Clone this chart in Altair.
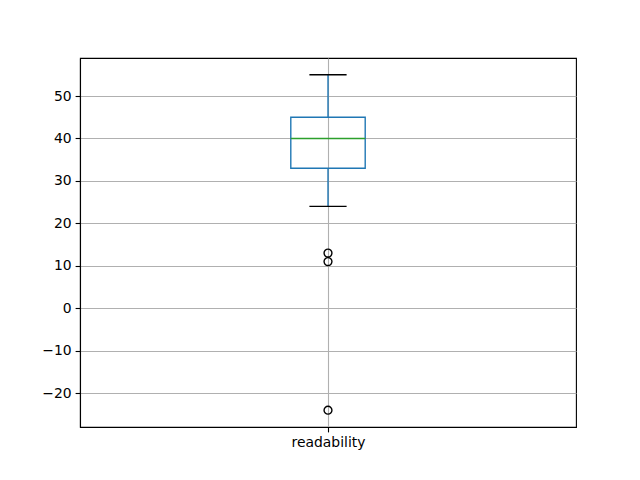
import altair as alt
import pandas as pd

categories = ["readability"]
q1 = [33]
median = [40]
q3 = [45]
whis_lo = [24]
whis_hi = [55]
fliers = [13, 11, -24]
flier_cat = ["readability", "readability", "readability"]

BOX_W = 0.15
CAP_W = 0.075
BLUE = "#1f77b4"
GREEN = "#2ca02c"
LW = 1.39

pos = {c: i + 1 for i, c in enumerate(categories)}
box = pd.DataFrame({
    "cat": categories,
    "pos": [pos[c] for c in categories],
    "q1": q1, "median": median, "q3": q3, "lo": whis_lo, "hi": whis_hi,
})
box["b0"] = box["pos"] - BOX_W / 2
box["b1"] = box["pos"] + BOX_W / 2
box["c0"] = box["pos"] - CAP_W / 2
box["c1"] = box["pos"] + CAP_W / 2
fl = pd.DataFrame({"pos": [pos[c] for c in flier_cat], "v": fliers})

label_expr = "datum.value == 1 ? '" + categories[0] + "' : ''"
xscale = alt.Scale(domain=[0.5, len(categories) + 0.5], nice=False, zero=False)
yscale = alt.Scale(domain=[-27.95, 58.95], nice=False, zero=False)
xaxis = alt.Axis(values=list(range(1, len(categories) + 1)), labelExpr=label_expr, title=None,
                 grid=True)
yaxis = alt.Axis(values=list(range(-20, 51, 10)), title=None, grid=True,
                 labelExpr="replace(format(datum.value, 'd'), '-', '\u2212')")


def X(f):
    return alt.X(f, type="quantitative", scale=xscale, axis=xaxis)


def Y(f):
    return alt.Y(f, type="quantitative", scale=yscale, axis=yaxis)


base = alt.Chart(box)

rect = base.mark_rect(fillOpacity=0, stroke=BLUE, strokeWidth=LW).encode(
    x=X("b0"), x2="b1", y=Y("q1"), y2="q3")
wh_hi = base.mark_rule(color=BLUE, strokeWidth=LW).encode(x=X("pos"), y=Y("q3"), y2="hi")
wh_lo = base.mark_rule(color=BLUE, strokeWidth=LW).encode(x=X("pos"), y=Y("lo"), y2="q1")
cap_hi = base.mark_rule(color="black", strokeWidth=LW).encode(x=X("c0"), x2="c1", y=Y("hi"))
cap_lo = base.mark_rule(color="black", strokeWidth=LW).encode(x=X("c0"), x2="c1", y=Y("lo"))
med = base.mark_rule(color=GREEN, strokeWidth=LW).encode(x=X("b0"), x2="b1", y=Y("median"))
pts = alt.Chart(fl).mark_point(shape="circle", filled=False, stroke="black", strokeWidth=LW,
                               size=62, opacity=1).encode(x=X("pos"), y=Y("v"))

chart = alt.layer(rect, wh_hi, wh_lo, cap_hi, cap_lo, med, pts).properties(
    width=496, height=369,
    autosize=alt.AutoSizeParams(type="none"),
    padding={"left": 72, "top": 50, "right": 48, "bottom": 37},
).configure_view(
    stroke="black", strokeWidth=1.1
).configure_axis(
    labelFont="DejaVu Sans", labelFontSize=13.9, labelColor="black",
    tickColor="black", tickSize=4.9, tickWidth=1.1,
    domainColor="black", domainWidth=1.1,
    gridColor="#b0b0b0", gridWidth=1.1, labelPadding=4,
)

chart.save("out.html", embed_options={"renderer": "svg", "actions": False})
